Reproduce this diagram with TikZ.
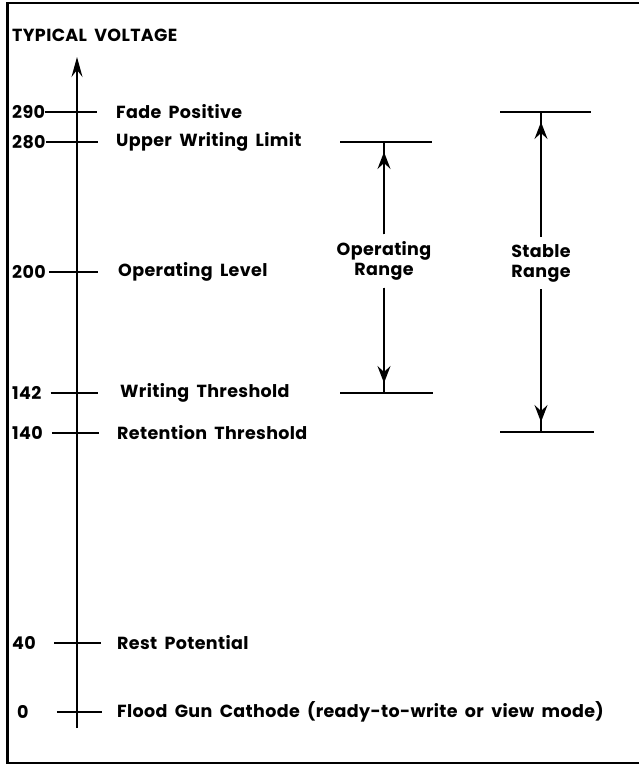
\documentclass[tikz,border=0pt]{standalone}
\usepackage{fontspec}
\setmainfont{Poppins}[WordSpace=1.8, LetterSpace=2]
\usetikzlibrary{arrows.meta, positioning}
\tikzstyle{txt} = [font=\bfseries\fontsize{17.5}{20}\selectfont, inner sep=0pt]
\tikzstyle{value} = [txt, anchor=west]
\tikzstyle{level} = [txt, anchor=west]
\tikzstyle{rangelabel} = [txt, align=center, inner sep=7pt]
\tikzstyle{tick} = [draw, line width=1.4pt]
\tikzstyle{bar} = [draw, line width=1.4pt]
\tikzstyle{rangearrow} = [draw, line width=1.4pt, -{Stealth[length=17pt, width=13pt, inset=6pt]}, shorten >=10pt]

\begin{document}
\begin{tikzpicture}[x=1pt, y=-1pt]
        \useasboundingbox (0,0) rectangle (639,767);
        % Frame
        \draw[line width=1.6pt] (639,3) -- (7,3);
        \draw[line width=1.6pt] (639,763) -- (7,763);
        \draw[line width=3pt] (7,2.2) -- (7,763.8);

        % Nodes
        \node [txt, anchor=west] (title) at (12,35) {TYPICAL VOLTAGE};

        \node [value] (v290) at (12,112) {290};
        \node [value] (v280) at (12,142) {280};
        \node [value] (v200) at (12,272) {200};
        \node [value] (v142) at (12,393) {142};
        \node [value] (v140) at (12,433) {140};
        \node [value] (v40)  at (12,643) {40};
        \node [value] (v0)   at (17,712) {0};

        \node [level] (l290) at (116,112) {Fade Positive};
        \node [level] (l280) at (116,142) {Upper Writing Limit};
        \node [level] (l200) at (118,272) {Operating Level};
        \node [level] (l142) at (120,393) {Writing Threshold};
        \node [level] (l140) at (117,433) {Retention Threshold};
        \node [level] (l40)  at (117,643) {Rest Potential};
        \node [level] (l0)   at (117,712) {Flood Gun Cathode (ready-to-write or view mode)};

        \node [rangelabel] (oplabel) at (384,261) {Operating\\Range};
        \node [rangelabel] (stlabel) at (541,263) {Stable\\Range};

        % Axis
        \coordinate (axisbase) at (77,728);
        \coordinate (axistop) at (77,57);
        \draw[line width=1.6pt, -{Stealth[length=20pt, width=11pt, inset=7pt]}] (axisbase) -- (axistop);

        % Ticks
        \draw[tick] (v290.east) -- ++(52,0);
        \draw[tick] (v280.east) -- ++(52,0);
        \draw[tick, shorten <=3pt] (v200.east) -- ++(52,0);
        \draw[tick, shorten <=9pt] (v142.east) -- ++(56,0);
        \draw[tick, shorten <=9pt] (v140.east) -- ++(56,0);
        \draw[tick, shorten <=18pt] (v40.east) -- ++(65,0);
        \draw[tick, shorten <=28pt] (v0.east) -- ++(73,0);

        % Range bars
        \coordinate (optop) at (384,142);
        \coordinate (opbot) at (384,393);
        \coordinate (sttop) at (541,112);
        \coordinate (stbot) at (541,432);
        \path [bar] (340,142) -- (432,142);
        \path [bar] (340,393) -- (433,393);
        \path [bar] (500,112) -- (591,112);
        \path [bar] (500,432) -- (594,432);

        % Arrows
        \path [bar] (oplabel) -- (optop);
        \path [bar] (oplabel) -- (opbot);
        \path [bar] (stlabel) -- (sttop);
        \path [bar] (stlabel) -- (stbot);
        \path [rangearrow] (oplabel) -- (optop);
        \path [rangearrow] (oplabel) -- (opbot);
        \path [rangearrow] (stlabel) -- (sttop);
        \path [rangearrow] (stlabel) -- (stbot);
    \end{tikzpicture}
\end{document}
